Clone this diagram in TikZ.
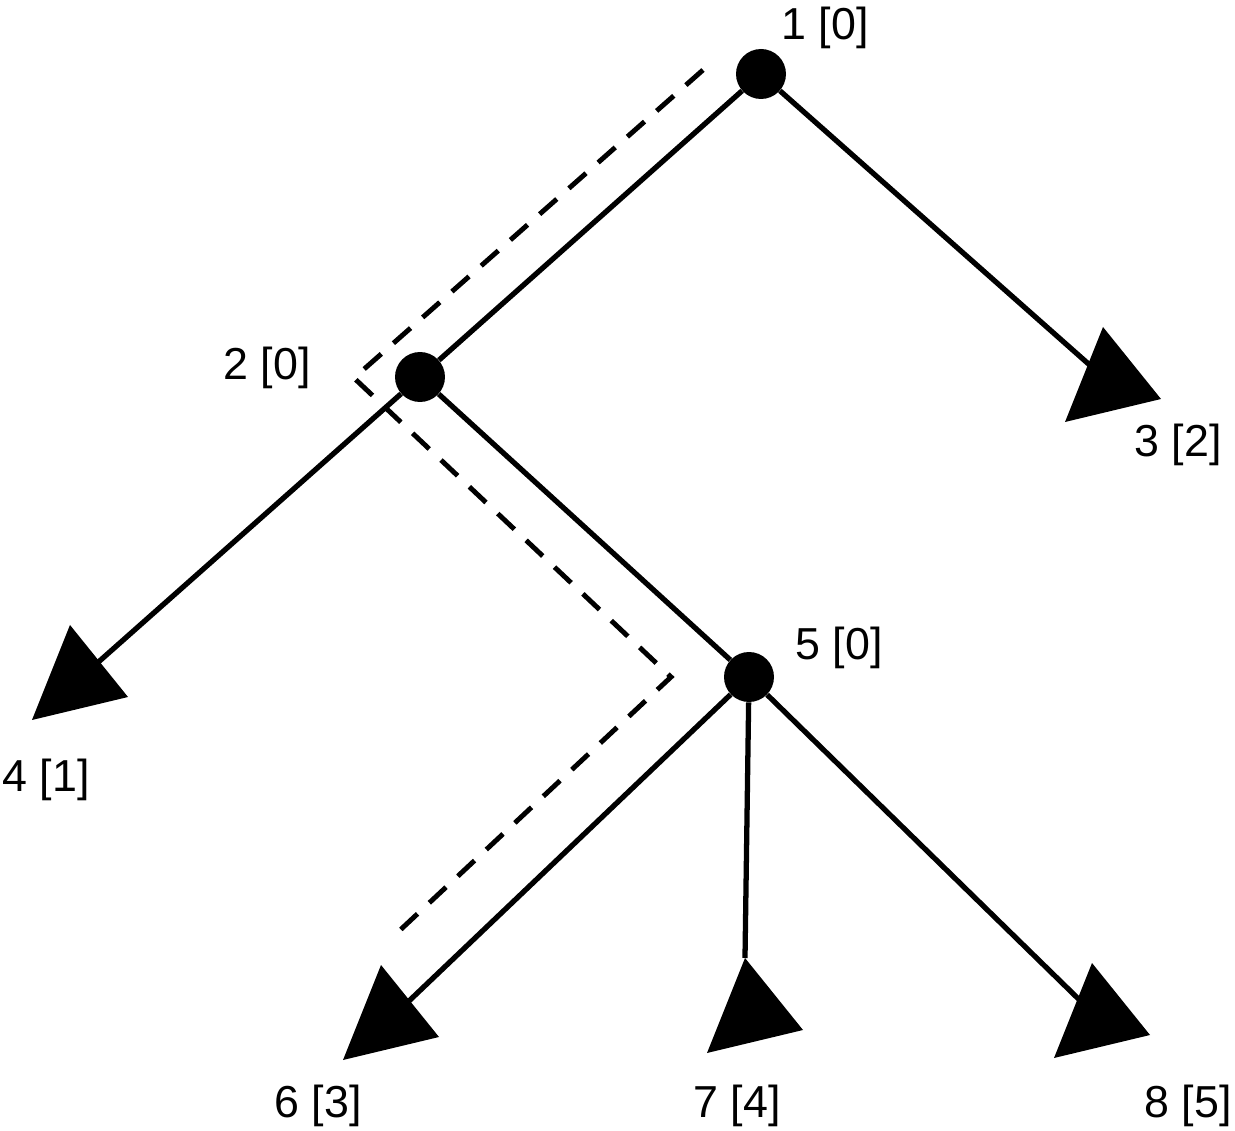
\documentclass[tikz,border=0pt]{standalone}
\usepackage{fontspec}
\setmainfont{Liberation Sans}
\usetikzlibrary{calc}
\begin{document}
\begin{tikzpicture}[x=0.02cm,y=-0.02cm,
  dot/.style={circle,fill=black,inner sep=0pt,minimum size=1cm},
  edge/.style={line width=3pt},
  trail/.style={line width=2.8pt,dash pattern=on 13pt off 9.2pt},
  leaf/.style={fill=black},
  lbl/.style={font=\fontsize{25.5}{30}\selectfont,inner sep=0pt,anchor=base}]
\useasboundingbox (0,0) rectangle (1235,1131);
% inner nodes
\node[dot] (n1) at (761,74) {};
\node[dot] (n2) at (420,377) {};
\node[dot] (n5) at (749,677) {};
% leaf triangle tops
\coordinate (t3) at (1103,327);
\coordinate (t4) at (70,625);
\coordinate (t6) at (381,965);
\coordinate (t7) at (745,958);
\coordinate (t8) at (1092,963);
% leaf centres
\coordinate (c3) at ($(t3)+(7,56)$);
\coordinate (c4) at ($(t4)+(7,56)$);
\coordinate (c6) at ($(t6)+(7,56)$);
\coordinate (c8) at ($(t8)+(7,56)$);
% dashed trail
\coordinate (d1) at (703,70);
\coordinate (d2) at (354,378);
\coordinate (d3) at (671,677);
\coordinate (d4) at (397,933);
\draw[trail] (d1) -- (d2) -- (d3) -- (d4);
% edges
\draw[edge] (n1) -- (n2);
\draw[edge] (n1) -- (c3);
\draw[edge] (n2) -- (c4);
\draw[edge] (n2) -- (n5);
\draw[edge] (n5) -- (c6);
\draw[edge] (n5) -- (t7);
\draw[edge] (n5) -- (c8);
% leaf triangles
\foreach \t in {t3,t4,t6,t7,t8}{
  \fill[leaf] (\t) -- ++(58,72) -- ++(-96,23) -- cycle;
}
% labels
\node[lbl] (l1) at (825,40) {1 [0]};
\node[lbl] (l2) at (267,380) {2 [0]};
\node[lbl] (l3) at (1178,457) {3 [2]};
\node[lbl] (l4) at (46,792) {4 [1]};
\node[lbl] (l5) at (839,660) {5 [0]};
\node[lbl] (l6) at (318,1117) {6 [3]};
\node[lbl] (l7) at (737,1117) {7 [4]};
\node[lbl] (l8) at (1188,1117) {8 [5]};
\end{tikzpicture}
\end{document}
